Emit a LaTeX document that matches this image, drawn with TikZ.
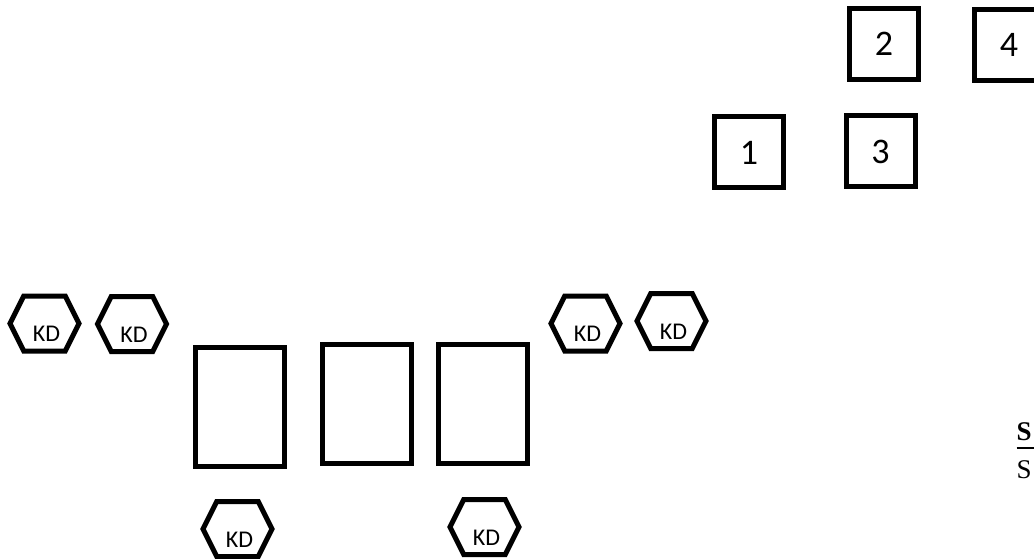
\documentclass[tikz,border=0pt]{standalone}
\usepackage{fontspec}
\setmainfont{Liberation Serif}
\newfontfamily\carlito{Carlito}
\usepackage{tikz}
\usetikzlibrary{shapes.symbols}
\newcommand{\sideline}[1]{\rlap{\rule[-8.3pt]{20pt}{2pt}}#1}

\begin{document}
\begin{tikzpicture}[x=1pt,y=-1pt,
  box/.style={draw,line width=5pt,minimum width=69pt,minimum height=71pt,inner sep=0pt,font=\carlito\fontsize{36}{40}\selectfont},
  desk/.style={draw,line width=5pt,minimum width=89pt,minimum height=119pt,inner sep=0pt},
  kd/.style={signal,signal to=west and east,signal pointer angle=127,draw,line width=5pt,minimum width=69pt,minimum height=55pt,inner sep=0pt},
  kdlabel/.style={anchor=base,inner sep=0pt,font=\carlito\fontsize{24}{28}\selectfont},
  side/.style={anchor=base west,inner sep=0pt,font=\fontsize{27}{31}\selectfont}]
  \useasboundingbox (0,0) rectangle (1034,559);
  \node[box] (n2) at (884,44) {2};
  \node[box] (n4) at (1009,45) {4};
  \node[box] (n1) at (749,152.5) {1};
  \node[box] (n3) at (880.5,151.5) {3};
  \node[desk] (d1) at (239.5,406.5) {};
  \node[desk] (d2) at (366.5,404) {};
  \node[desk] (d3) at (483,404) {};
  \node[kd] (k1) at (44.5,323.5) {};
  \node[kd] (k2) at (132,324) {};
  \node[kd] (k3) at (585.5,323.5) {};
  \node[kd] (k4) at (671.5,321) {};
  \node[kd] (k5) at (237.5,529) {};
  \node[kd] (k6) at (484.5,527) {};
  \node[kdlabel] (k1t) at ([shift={(2,18)}]k1.center) {KD};
  \node[kdlabel] (k2t) at ([shift={(2,18)}]k2.center) {KD};
  \node[kdlabel] (k3t) at ([shift={(2,18)}]k3.center) {KD};
  \node[kdlabel] (k4t) at ([shift={(2,18)}]k4.center) {KD};
  \node[kdlabel] (k5t) at ([shift={(2,18)}]k5.center) {KD};
  \node[kdlabel] (k6t) at ([shift={(2,18)}]k6.center) {KD};
  \node[side] (s1) at (1016.5,440.4) {\sideline{\textbf{S}}};
  \node[side] (s2) at (1016.5,478) {S};
\end{tikzpicture}
\end{document}
